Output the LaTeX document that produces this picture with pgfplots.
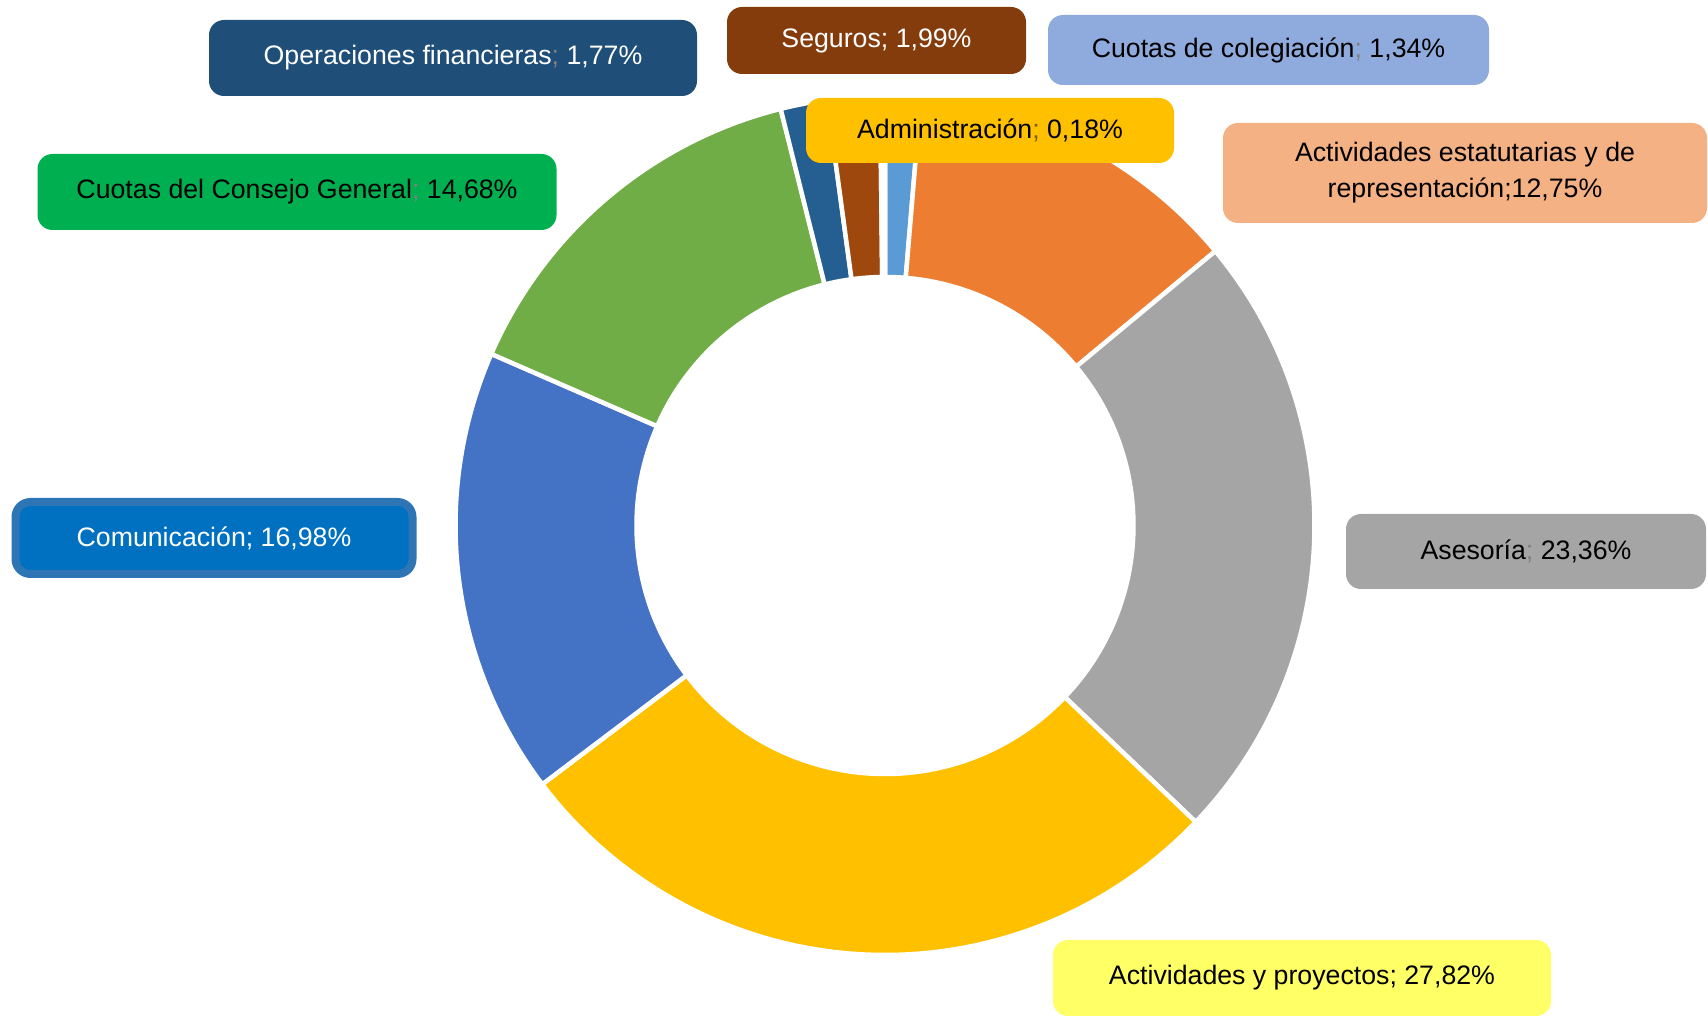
\documentclass[border=0pt]{standalone}
\usepackage{pgfplots}
\pgfplotsset{compat=1.18}
\usepackage{pgfplotstable}
\usepackage{fontspec}
\setmainfont{Liberation Sans}

\definecolor{sc0}{HTML}{5B9BD5}
\definecolor{sc1}{HTML}{ED7D31}
\definecolor{sc2}{HTML}{A5A5A5}
\definecolor{sc3}{HTML}{FFC000}
\definecolor{sc4}{HTML}{4472C4}
\definecolor{sc5}{HTML}{70AD47}
\definecolor{sc6}{HTML}{255E91}
\definecolor{sc7}{HTML}{9E480E}
\definecolor{sc8}{HTML}{997300}

\definecolor{bOper}{HTML}{1F4E79}
\definecolor{bSeg}{HTML}{843C0C}
\definecolor{bCol}{HTML}{8FAADC}
\definecolor{bAdm}{HTML}{FFC000}
\definecolor{bEst}{HTML}{F4B183}
\definecolor{bCons}{HTML}{00B050}
\definecolor{bCom}{HTML}{0070C0}
\definecolor{bComB}{HTML}{2E75B6}
\definecolor{bAse}{HTML}{A5A5A5}
\definecolor{bPro}{HTML}{FFFF66}
\definecolor{semi}{HTML}{808080}
\definecolor{semiA}{HTML}{7F6000}

\pgfplotstableread[col sep=comma]{
name,value
Cuotas de colegiacion,1.34
Actividades estatutarias,12.75
Asesoria,23.36
Actividades y proyectos,27.82
Comunicacion,16.98
Cuotas del Consejo General,14.68
Operaciones financieras,1.77
Seguros,1.99
Administracion,0.18
}\slices

\begin{document}
\begin{tikzpicture}[lab/.style={rounded corners=1.5mm, inner sep=0pt, align=center,
    font=\fontsize{7.6}{10.2}\selectfont}]
\pgfmathsetmacro\mytotal{0}%
\pgfplotsforeachungrouped \i in {0,...,8}{%
  \pgfplotstablegetelem{\i}{value}\of\slices
  \pgfmathsetmacro\mytotal{\mytotal+\pgfplotsretval}}%
\def\mycum{0}%
\pgfplotsforeachungrouped \i in {0,...,8}{%
  \pgfplotstablegetelem{\i}{value}\of\slices
  \pgfmathsetmacro\myS{90-360*(\mycum/\mytotal)}%
  \pgfmathsetmacro\mycum{\mycum+\pgfplotsretval}%
  \pgfmathsetmacro\myE{90-360*(\mycum/\mytotal)}%
  \expandafter\xdef\csname sa\i\endcsname{\myS}%
  \expandafter\xdef\csname ea\i\endcsname{\myE}}%
\begin{axis}[
  scale only axis, width=170.8mm, height=101.7mm,
  xmin=0, xmax=1708, ymin=0, ymax=1017, y dir=reverse,
  hide axis, clip=false,
]
\path (axis cs:0,0) rectangle (axis cs:1708,1017);
\pgfplotsinvokeforeach{0,...,8}{%
  \fill[sc#1, draw=white, line width=0.45mm, shift={(axis cs:885,525.5)}]
    (\csname sa#1\endcsname:42.95mm)
    arc[start angle=\csname sa#1\endcsname, end angle=\csname ea#1\endcsname, radius=42.95mm]
    -- (\csname ea#1\endcsname:24.85mm)
    arc[start angle=\csname ea#1\endcsname, end angle=\csname sa#1\endcsname, radius=24.85mm]
    -- cycle;
}

\node[lab, fill=bOper, text=white, minimum width=48.8mm, minimum height=7.6mm]
  at (axis cs:453,58) {Operaciones financieras{\color{semi};} 1,77\%};
\node[lab, fill=bSeg, text=white, minimum width=29.9mm, minimum height=6.7mm]
  at (axis cs:876.5,40.5) {Seguros; 1,99\%};
\node[lab, fill=bCol, text=black, minimum width=44.1mm, minimum height=7.0mm]
  at (axis cs:1268.5,50) {Cuotas de colegiación{\color{semi};} 1,34\%};
\node[lab, fill=bAdm, text=black, minimum width=36.8mm, minimum height=6.5mm]
  at (axis cs:990,130.5) {Administración{\color{semiA};} 0,18\%};
\node[lab, fill=bEst, text=black, minimum width=48.4mm, minimum height=10.0mm]
  at (axis cs:1465,173) {Actividades estatutarias y de\\representación;12,75\%};
\node[lab, fill=bCons, text=black, minimum width=51.9mm, minimum height=7.6mm]
  at (axis cs:297,192) {Cuotas del Consejo General{\color{semi};} 14,68\%};
\node[lab, fill=bCom, draw=bComB, line width=0.8mm, text=white, minimum width=39.7mm, minimum height=7.2mm]
  at (axis cs:214,538) {Comunicación; 16,98\%};
\node[lab, fill=bAse, text=black, minimum width=36.0mm, minimum height=7.5mm]
  at (axis cs:1526,551.5) {Asesoría{\color{semi};} 23,36\%};
\node[lab, fill=bPro, text=black, minimum width=49.8mm, minimum height=7.6mm]
  at (axis cs:1302,978) {Actividades y proyectos; 27,82\%};
\end{axis}
\end{tikzpicture}
\end{document}
